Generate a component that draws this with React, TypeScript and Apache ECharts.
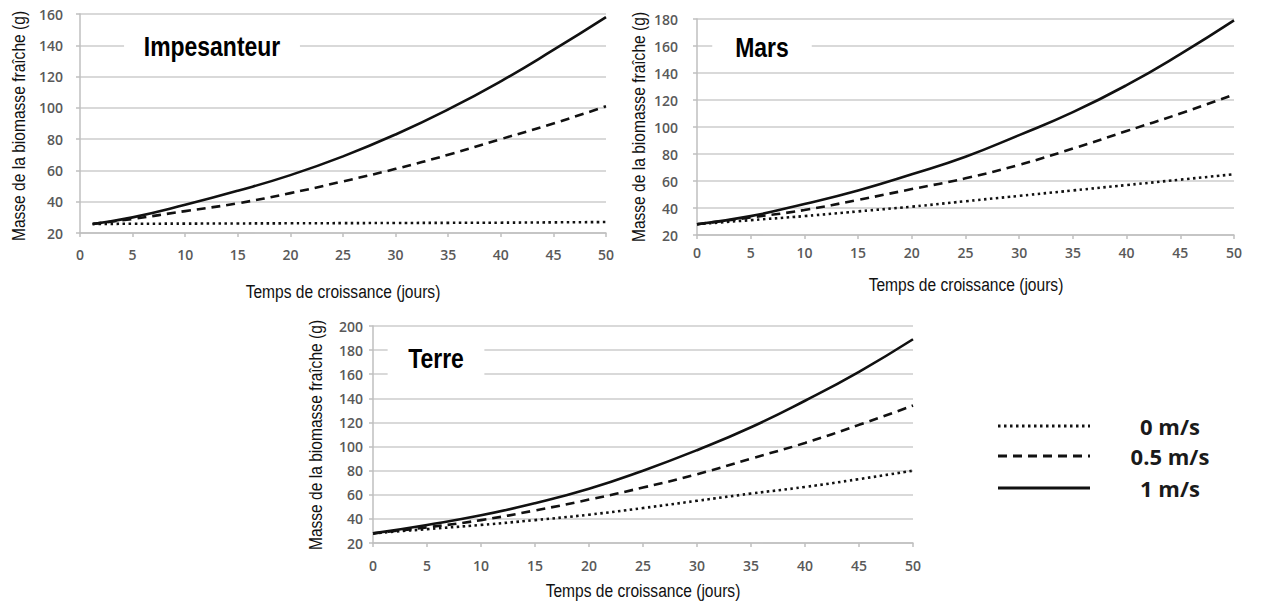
import React, { useEffect, useRef } from "react";
import * as echarts from "echarts";

// ---- data ----
const days = [0, 5, 10, 15, 20, 25, 30, 35, 40, 45, 50];
const daysImpesanteur = [1.2, 5, 10, 15, 20, 25, 30, 35, 40, 45, 50];

const impesanteur0 = [25.8, 25.9, 26, 26.1, 26.2, 26.3, 26.4, 26.5, 26.6, 26.8, 27];
const impesanteur05 = [25.8, 29, 34, 39, 45.5, 53, 61, 70, 80, 90, 101];
const impesanteur1 = [25.8, 30, 38, 47, 57, 69, 83, 99, 117, 137, 158];

const mars0 = [28, 31, 34, 37.5, 41, 45, 49, 53, 57, 61, 65];
const mars05 = [28, 33, 38.5, 46, 54, 62, 72, 84, 97, 110, 124];
const mars1 = [28, 34, 43, 53, 65, 78, 94, 111, 131, 154, 179];

const terre0 = [28, 31.5, 35, 39, 43.5, 49, 55, 61, 66.5, 73, 80];
const terre05 = [28, 33, 39, 47, 56, 66, 77, 90, 103, 118, 134];
const terre1 = [28, 35, 43, 53, 65, 80, 97, 116, 138, 162, 189];

const panelTitles = ["Impesanteur", "Mars", "Terre"];
const legendLabels = ["0 m/s", "0.5 m/s", "1 m/s"];
const xAxisTitle = "Temps de croissance (jours)";
const yAxisTitle = "Masse de la biomasse fraîche (g)";

const SANS = "'Liberation Sans', Arial, sans-serif";
const TICKFONT = "'Open Sans', 'Noto Sans', sans-serif";
const NARROW_SCALE = 0.82;

const lineTypes: any[] = [[2.5, 3.5], [9, 6], "solid"];

export default function App() {
  const ref = useRef<HTMLDivElement>(null);

  useEffect(() => {
    if (!ref.current) return;
    const chart = echarts.init(ref.current, undefined, { renderer: "svg" });

    const grids = [
      { left: 80, top: 14, width: 526, height: 219 },
      { left: 697, top: 19, width: 537, height: 216 },
      { left: 373, top: 326, width: 540, height: 217 },
    ];
    const yMax = [160, 180, 200];
    const xLabelMargin = [14, 10, 15];
    const yLabelMargin = [17, 19, 10];

    const xAxes = grids.map((_, i) => ({
      type: "value",
      gridIndex: i,
      min: 0,
      max: 50,
      interval: 5,
      axisLine: { show: true, lineStyle: { color: "#bfbfbf", width: 1.5 } },
      axisTick: { show: true, length: 4, lineStyle: { color: "#bfbfbf", width: 1.5 } },
      axisLabel: {
        margin: xLabelMargin[i],
        fontFamily: TICKFONT,
        fontSize: 14,
        fontWeight: 600,
        color: "#595959",
      },
      splitLine: { show: false },
    }));

    const yAxes = grids.map((_, i) => ({
      type: "value",
      gridIndex: i,
      min: 20,
      max: yMax[i],
      interval: 20,
      axisLine: { show: true, lineStyle: { color: "#bfbfbf", width: 1.5 } },
      axisTick: { show: true, length: 4, lineStyle: { color: "#bfbfbf", width: 1.5 } },
      axisLabel: {
        margin: yLabelMargin[i],
        fontFamily: TICKFONT,
        fontSize: 14,
        fontWeight: 600,
        color: "#595959",
      },
      splitLine: { show: true, lineStyle: { color: "#d9d9d9", width: 2 } },
    }));

    const panels = [
      { x: daysImpesanteur, sets: [impesanteur0, impesanteur05, impesanteur1] },
      { x: days, sets: [mars0, mars05, mars1] },
      { x: days, sets: [terre0, terre05, terre1] },
    ];

    const series: any[] = [];
    panels.forEach((p, gi) => {
      p.sets.forEach((vals, si) => {
        series.push({
          type: "line",
          name: legendLabels[si],
          xAxisIndex: gi,
          yAxisIndex: gi,
          data: p.x.map((d, k) => [d, vals[k]]),
          smooth: true,
          showSymbol: false,
          symbol: "none",
          lineStyle: { color: "#111", width: 2.6, type: lineTypes[si] },
          z: 3,
        });
      });
    });

    const titlePos = [
      { x: 212, y: 46, ph: 24 },
      { x: 762, y: 47, ph: 28 },
      { x: 436, y: 358, ph: 25 },
    ];

    const titleGraphics = panelTitles.map((t, i) => ({
      type: "text",
      x: titlePos[i].x,
      y: titlePos[i].y,
      scaleX: NARROW_SCALE,
      z: 10,
      style: {
        text: t,
        font: `bold 28px ${SANS}`,
        fill: "#000",
        align: "center",
        verticalAlign: "middle",
        backgroundColor: "#fff",
        padding: [7, titlePos[i].ph, 7, titlePos[i].ph],
      },
    }));

    const xTitlePos = [
      [343, 291],
      [966, 284],
      [643, 590],
    ];
    const yTitlePos = [
      [18, 126],
      [638, 127],
      [315, 435],
    ];
    const axisTitleGraphics: any[] = [];
    xTitlePos.forEach(([x, y]) => {
      axisTitleGraphics.push({
        type: "text",
        x,
        y,
        scaleX: NARROW_SCALE,
        z: 10,
        style: {
          text: xAxisTitle,
          font: `19px ${SANS}`,
          fill: "#111",
          align: "center",
          verticalAlign: "middle",
        },
      });
    });
    yTitlePos.forEach(([x, y]) => {
      axisTitleGraphics.push({
        type: "text",
        x,
        y,
        rotation: Math.PI / 2,
        scaleX: NARROW_SCALE,
        z: 10,
        style: {
          text: yAxisTitle,
          font: `19px ${SANS}`,
          fill: "#111",
          align: "center",
          verticalAlign: "middle",
        },
      });
    });

    const legendY = [426, 456, 488];
    const legendGraphics: any[] = [];
    legendLabels.forEach((lab, i) => {
      legendGraphics.push({
        type: "line",
        z: 10,
        shape: { x1: 998, y1: legendY[i], x2: 1090, y2: legendY[i] },
        style: {
          stroke: "#111",
          lineWidth: 3,
          lineDash: i === 2 ? null : lineTypes[i],
        },
      });
      legendGraphics.push({
        type: "text",
        z: 10,
        x: 1170,
        y: legendY[i],
        style: {
          text: lab,
          font: `bold 22px 'Open Sans', 'Noto Sans', sans-serif`,
          fill: "#1a1a1a",
          align: "center",
          verticalAlign: "middle",
        },
      });
    });

    chart.setOption({
      animation: false,
      backgroundColor: "#fff",
      grid: grids,
      xAxis: xAxes,
      yAxis: yAxes,
      series,
      graphic: [...titleGraphics, ...axisTitleGraphics, ...legendGraphics],
    });

    return () => chart.dispose();
  }, []);

  return (
    <div
      ref={ref}
      style={{ position: "fixed", left: 0, top: 0, width: 1261, height: 603, background: "#fff" }}
    />
  );
}
